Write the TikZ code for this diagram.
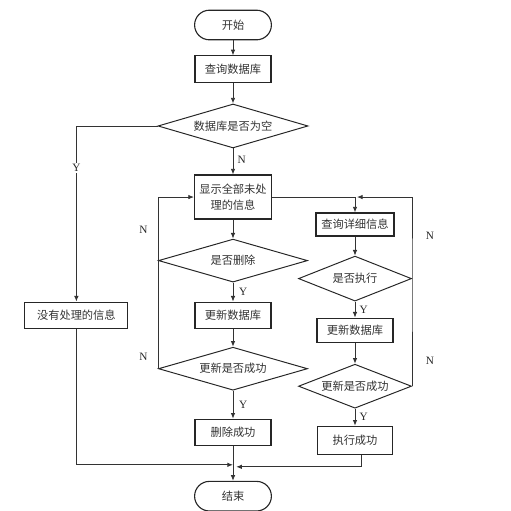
\documentclass[tikz,border=0pt]{standalone}
\usepackage{fontspec}
\setmainfont{Liberation Serif}
\newfontfamily\cjk{Noto Sans CJK SC}
\usetikzlibrary{shapes.geometric, arrows.meta, positioning, calc}

\begin{document}
\begin{tikzpicture}[
  >={Latex[length=4pt,width=3.2pt]},
  base/.style={
    draw=black!85, align=center,
    inner sep=1pt,
    font=\cjk\fontsize{8}{11}\selectfont,
    text=black!80,
    line width=0.8pt
  },
  proc/.style={
    base, rectangle,
    minimum width=1.9cm,
    minimum height=0.65cm
  },
  term/.style={
    base, rectangle,
    rounded corners=0.37cm,
    minimum width=1.92cm,
    minimum height=0.74cm
  },
  decide/.style={
    base, diamond,
    shape aspect=3,
    inner sep=0pt,
    line width=0.7pt
  },
  yn/.style={font=\fontsize{8}{10}\selectfont, text=black!85, inner sep=1pt},
  arrow/.style={->, line width=0.6pt, black!80},
  link/.style={line width=0.6pt, black!80}
]
\useasboundingbox (0,0) rectangle (12.775,-12.775);

%% Main column
\node[term] (start) at (5.825,-0.625) {开始};

\node[proc, below=0.375cm of start, minimum height=0.675cm] (query) {查询数据库};

\node[decide, below=0.5cm of query,
      minimum width=3.75cm, minimum height=1.1cm] (empty) {数据库是否为空};

\node[proc, below=0.65cm of empty, minimum width=1.925cm,
      minimum height=1.1cm] (show) {显示全部未处\\理的信息};

\node[decide, below=0.475cm of show,
      minimum width=3.725cm, minimum height=1.075cm] (delq) {是否删除};

\node[proc, below=0.475cm of delq] (upd1) {更新数据库};

\node[decide, below=0.45cm of upd1,
      minimum width=3.725cm, minimum height=1.075cm] (okq1) {更新是否成功};

\node[proc, below=0.7cm of okq1] (delok) {删除成功};

\node[term, below=0.875cm of delok] (stop) {结束};

%% --- Left branch ---
\node[proc, left=1.65cm of upd1, minimum width=2.575cm] (none) {没有处理的信息};

%% --- Right column ---
\node[proc, at={($(show.north)+(3.05,-0.95)$)}, anchor=north,
      minimum width=1.95cm, minimum height=0.575cm] (detail) {查询详细信息};

\node[decide, below=0.475cm of detail,
      minimum width=2.825cm, minimum height=1.125cm] (execq) {是否执行};

\node[proc, below=0.4cm of execq, minimum height=0.6cm] (upd2) {更新数据库};

\node[decide, below=0.525cm of upd2,
      minimum width=2.825cm, minimum height=1.1cm] (okq2) {更新是否成功};

\node[proc, below=0.425cm of okq2, minimum width=1.875cm,
      minimum height=0.7cm] (execok) {执行成功};

\coordinate[below=0.475cm of delok.south] (join);

%% --- Arrows ---
\draw[arrow] (start) -- (query);
\draw[arrow] (query) -- (empty);
\draw[arrow] (empty) -- node[yn, right=2pt, pos=0.42] {N} (show);
\draw[arrow] (empty.west) -| node[yn, fill=white, pos=0.62] {Y} (none.north);

\draw[arrow] (show) -- (delq);
\draw[arrow] (delq) -- node[yn, right=3pt] {Y} (upd1);
\draw[arrow] (upd1) -- (okq1);
\draw[arrow] (okq1) -- node[yn, right=3pt] {Y} (delok);
\draw[arrow] (okq1.west)
  -- node[yn, pos=0.07, left=0.22cm] {N}
     node[yn, pos=0.81, left=0.22cm] {N} (okq1.west |- show.west)
  -- (show.west);

\draw[arrow] (show.east) -| (detail.north);
\draw[arrow] (detail) -- (execq);
\draw[arrow] (execq) -- node[yn, right=2pt] {Y} (upd2);
\draw[arrow] (upd2) -- (okq2);
\draw[arrow] (okq2) -- node[yn, right=2pt] {Y} (execok);
\draw[arrow] (okq2.east)
  -- node[yn, pos=0.24, right=0.3cm] {N} (execq.east)
  -- node[yn, pos=0.52, right=0.3cm] {N} (execq.east |- show.east)
  -- ($(detail.north |- show.east)+(0.05,0)$);

\draw[arrow] (delok) -- (stop);
\draw[arrow] (none.south) |- (join);
\draw[arrow] ($(execok.south)+(0.15,0)$) |- ($(join)+(0.08,-0.05)$);

\end{tikzpicture}
\end{document}
